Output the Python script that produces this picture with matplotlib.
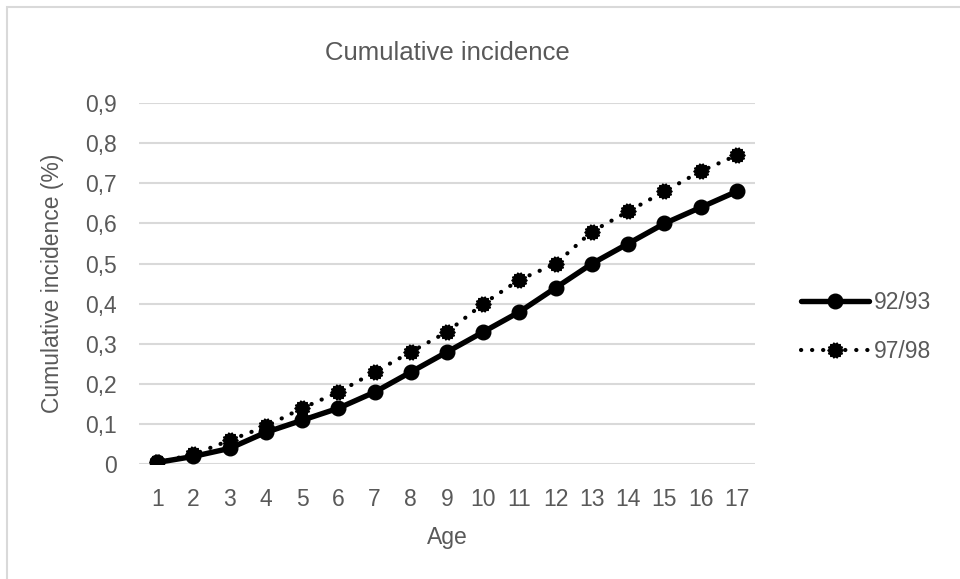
import numpy as np
import matplotlib

matplotlib.use('Agg')
import matplotlib.pyplot as plt
from matplotlib.path import Path
from matplotlib.patches import Rectangle

plt.rcParams['font.family'] = ['Liberation Sans', 'DejaVu Sans']

ages = list(range(1, 18))
inc_9293 = [0.005, 0.02, 0.04, 0.08, 0.11, 0.14, 0.18, 0.23, 0.28, 0.33,
            0.38, 0.44, 0.50, 0.55, 0.60, 0.64, 0.68]
inc_9798 = [0.005, 0.025, 0.06, 0.095, 0.14, 0.18, 0.23, 0.28, 0.33, 0.40,
            0.46, 0.50, 0.58, 0.63, 0.68, 0.73, 0.77]
y_ticks = [0, 0.1, 0.2, 0.3, 0.4, 0.5, 0.6, 0.7, 0.8, 0.9]
y_tick_labels = ['0', '0,1', '0,2', '0,3', '0,4', '0,5', '0,6', '0,7', '0,8', '0,9']

TEXT = '#595959'
GRID = '#d9d9d9'
FS = 16.5

# bumpy round marker for the dotted series
n = 28
ang = np.linspace(0, 2 * np.pi, n, endpoint=False)
rad = np.where(np.arange(n) % 2 == 0, 1.0, 0.82)
verts = np.column_stack([rad * np.cos(ang), rad * np.sin(ang)])
verts = np.vstack([verts, verts[:1]])
gear = Path(verts, [Path.MOVETO] + [Path.LINETO] * (n - 1) + [Path.CLOSEPOLY])

fig = plt.figure(figsize=(9.6, 5.79), dpi=100)
ax = fig.add_axes([0.1448, 0.1978, 0.6417, 0.6243])

ax.plot(ages, inc_9293, color='black', lw=3.9, marker='o', ms=10.5,
        solid_capstyle='round', label='92/93', zorder=3)
ax.plot(ages, inc_9798, color='black', lw=3.0, linestyle=(0, (0.05, 2.6)),
        dash_capstyle='round', marker=gear, ms=11, label='97/98', zorder=3)

ax.set_xlim(0.5, 17.5)
ax.set_ylim(0, 0.9)
ax.set_xticks(ages)
ax.set_yticks(y_ticks)
ax.set_yticklabels(y_tick_labels)
ax.tick_params(axis='both', length=0, labelsize=FS, colors=TEXT)
ax.tick_params(axis='y', pad=16)
ax.tick_params(axis='x', pad=17)
ax.yaxis.grid(True, color=GRID, lw=1.5)
ax.set_axisbelow(True)
for s in ax.spines.values():
    s.set_visible(False)

ax.set_title('Cumulative incidence', fontsize=18.5, color=TEXT, pad=31)
ax.set_xlabel('Age', fontsize=FS, color=TEXT, labelpad=11)
ax.set_ylabel('Cumulative incidence (%)', fontsize=FS, color=TEXT, labelpad=15)

leg = ax.legend(loc='center left', bbox_to_anchor=(0.822, 0.435),
                bbox_transform=fig.transFigure, frameon=False, fontsize=FS,
                handlelength=3.0, handletextpad=0.2, labelspacing=1.15,
                borderpad=0)
for t in leg.get_texts():
    t.set_color(TEXT)

# chart frame
fig.patches.append(Rectangle((7 / 960, -0.1), 1.2, 1 - 7 / 579 + 0.1,
                             transform=fig.transFigure, fill=False,
                             edgecolor=GRID, lw=1.5))

fig.savefig('out.png', dpi=100)
